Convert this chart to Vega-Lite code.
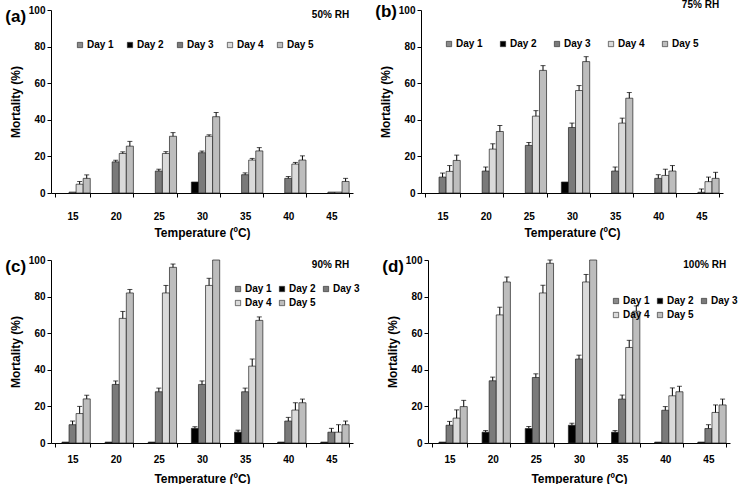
{
  "$schema": "https://vega.github.io/schema/vega-lite/v6.json",
  "background": "white",
  "padding": {"left": 5, "top": 0, "right": 0, "bottom": 0},
  "config": {
    "font": "Liberation Sans",
    "view": {"stroke": null},
    "axis": {"labelFont": "Liberation Sans", "labelFontWeight": "bold", "labelFontSize": 10, "labelColor": "#000", "titleFont": "Liberation Sans", "titleFontSize": 12, "titleFontWeight": "bold", "titleColor": "#000", "domainColor": "#000", "tickColor": "#000", "tickSize": 4, "grid": false, "labelOverlap": false},
    "legend": {"labelFont": "Liberation Sans", "labelFontWeight": "bold", "labelFontSize": 10, "labelColor": "#000", "symbolType": "square", "symbolSize": 28, "symbolStrokeWidth": 0.6, "labelOffset": 2, "title": null},
    "title": {"font": "Liberation Sans", "fontSize": 17, "fontWeight": "bold", "color": "#000", "anchor": "start", "frame": "bounds", "offset": -21, "dx": -4}
  },
  "datasets": {
    "d": [
      {"p": "a", "t": "15", "d": "Day 3", "m": 0.5, "hi": null},
      {"p": "a", "t": "15", "d": "Day 4", "m": 4.8, "hi": 6.3},
      {"p": "a", "t": "15", "d": "Day 5", "m": 8, "hi": 9.9},
      {"p": "a", "t": "20", "d": "Day 3", "m": 17, "hi": 17.9},
      {"p": "a", "t": "20", "d": "Day 4", "m": 21.6, "hi": 22.5},
      {"p": "a", "t": "20", "d": "Day 5", "m": 25.6, "hi": 28.2},
      {"p": "a", "t": "25", "d": "Day 3", "m": 12, "hi": 13},
      {"p": "a", "t": "25", "d": "Day 4", "m": 21.6, "hi": 22.6},
      {"p": "a", "t": "25", "d": "Day 5", "m": 31, "hi": 33},
      {"p": "a", "t": "30", "d": "Day 2", "m": 6, "hi": null},
      {"p": "a", "t": "30", "d": "Day 3", "m": 22, "hi": 22.9},
      {"p": "a", "t": "30", "d": "Day 4", "m": 31, "hi": 31.8},
      {"p": "a", "t": "30", "d": "Day 5", "m": 41.7, "hi": 44},
      {"p": "a", "t": "35", "d": "Day 3", "m": 10, "hi": 11},
      {"p": "a", "t": "35", "d": "Day 4", "m": 18, "hi": 18.9},
      {"p": "a", "t": "35", "d": "Day 5", "m": 23, "hi": 24.8},
      {"p": "a", "t": "40", "d": "Day 3", "m": 8, "hi": 9},
      {"p": "a", "t": "40", "d": "Day 4", "m": 15.8, "hi": 16.7},
      {"p": "a", "t": "40", "d": "Day 5", "m": 18, "hi": 20.3},
      {"p": "a", "t": "45", "d": "Day 3", "m": 0.5, "hi": null},
      {"p": "a", "t": "45", "d": "Day 4", "m": 0.5, "hi": null},
      {"p": "a", "t": "45", "d": "Day 5", "m": 6.3, "hi": 8},

      {"p": "b", "t": "15", "d": "Day 3", "m": 8.7, "hi": 10.9},
      {"p": "b", "t": "15", "d": "Day 4", "m": 11.8, "hi": 15},
      {"p": "b", "t": "15", "d": "Day 5", "m": 17.8, "hi": 20.7},
      {"p": "b", "t": "20", "d": "Day 3", "m": 12, "hi": 14.2},
      {"p": "b", "t": "20", "d": "Day 4", "m": 24, "hi": 26.9},
      {"p": "b", "t": "20", "d": "Day 5", "m": 33.6, "hi": 36.9},
      {"p": "b", "t": "25", "d": "Day 3", "m": 26, "hi": 27.6},
      {"p": "b", "t": "25", "d": "Day 4", "m": 42, "hi": 45},
      {"p": "b", "t": "25", "d": "Day 5", "m": 67, "hi": 69.6},
      {"p": "b", "t": "30", "d": "Day 2", "m": 6, "hi": null},
      {"p": "b", "t": "30", "d": "Day 3", "m": 35.8, "hi": 38.2},
      {"p": "b", "t": "30", "d": "Day 4", "m": 56, "hi": 58.7},
      {"p": "b", "t": "30", "d": "Day 5", "m": 71.8, "hi": 74.5},
      {"p": "b", "t": "35", "d": "Day 3", "m": 12, "hi": 14.2},
      {"p": "b", "t": "35", "d": "Day 4", "m": 38.2, "hi": 40.9},
      {"p": "b", "t": "35", "d": "Day 5", "m": 51.8, "hi": 54.9},
      {"p": "b", "t": "40", "d": "Day 3", "m": 8, "hi": 10},
      {"p": "b", "t": "40", "d": "Day 4", "m": 9.6, "hi": 13},
      {"p": "b", "t": "40", "d": "Day 5", "m": 12, "hi": 15},
      {"p": "b", "t": "45", "d": "Day 3", "m": 0.4, "hi": 2.2},
      {"p": "b", "t": "45", "d": "Day 4", "m": 6.2, "hi": 8.7},
      {"p": "b", "t": "45", "d": "Day 5", "m": 8, "hi": 11.3},

      {"p": "c", "t": "15", "d": "Day 2", "m": 0.5, "hi": null},
      {"p": "c", "t": "15", "d": "Day 3", "m": 10, "hi": 12},
      {"p": "c", "t": "15", "d": "Day 4", "m": 16.1, "hi": 20},
      {"p": "c", "t": "15", "d": "Day 5", "m": 24.1, "hi": 26.1},
      {"p": "c", "t": "20", "d": "Day 2", "m": 0.5, "hi": null},
      {"p": "c", "t": "20", "d": "Day 3", "m": 32, "hi": 33.9},
      {"p": "c", "t": "20", "d": "Day 4", "m": 68.1, "hi": 71.9},
      {"p": "c", "t": "20", "d": "Day 5", "m": 82, "hi": 83.9},
      {"p": "c", "t": "25", "d": "Day 2", "m": 0.5, "hi": null},
      {"p": "c", "t": "25", "d": "Day 3", "m": 28, "hi": 30},
      {"p": "c", "t": "25", "d": "Day 4", "m": 82, "hi": 86.1},
      {"p": "c", "t": "25", "d": "Day 5", "m": 96, "hi": 97.8},
      {"p": "c", "t": "30", "d": "Day 2", "m": 8, "hi": 8.9},
      {"p": "c", "t": "30", "d": "Day 3", "m": 32, "hi": 33.9},
      {"p": "c", "t": "30", "d": "Day 4", "m": 86.1, "hi": 90},
      {"p": "c", "t": "30", "d": "Day 5", "m": 100, "hi": null},
      {"p": "c", "t": "35", "d": "Day 2", "m": 5.9, "hi": 7},
      {"p": "c", "t": "35", "d": "Day 3", "m": 28, "hi": 30},
      {"p": "c", "t": "35", "d": "Day 4", "m": 42, "hi": 45.9},
      {"p": "c", "t": "35", "d": "Day 5", "m": 67, "hi": 68.9},
      {"p": "c", "t": "40", "d": "Day 2", "m": 0.5, "hi": null},
      {"p": "c", "t": "40", "d": "Day 3", "m": 12, "hi": 14},
      {"p": "c", "t": "40", "d": "Day 4", "m": 18, "hi": 22},
      {"p": "c", "t": "40", "d": "Day 5", "m": 22, "hi": 24},
      {"p": "c", "t": "45", "d": "Day 2", "m": 0.5, "hi": null},
      {"p": "c", "t": "45", "d": "Day 3", "m": 5.9, "hi": 8},
      {"p": "c", "t": "45", "d": "Day 4", "m": 5.9, "hi": 10},
      {"p": "c", "t": "45", "d": "Day 5", "m": 10, "hi": 12},

      {"p": "d", "t": "15", "d": "Day 2", "m": 0.5, "hi": null},
      {"p": "d", "t": "15", "d": "Day 3", "m": 9.7, "hi": 11.8},
      {"p": "d", "t": "15", "d": "Day 4", "m": 13.6, "hi": 18.1},
      {"p": "d", "t": "15", "d": "Day 5", "m": 19.9, "hi": 23.3},
      {"p": "d", "t": "20", "d": "Day 2", "m": 5.9, "hi": 6.8},
      {"p": "d", "t": "20", "d": "Day 3", "m": 34, "hi": 36},
      {"p": "d", "t": "20", "d": "Day 4", "m": 70, "hi": 74.2},
      {"p": "d", "t": "20", "d": "Day 5", "m": 88, "hi": 90.7},
      {"p": "d", "t": "25", "d": "Day 2", "m": 7.9, "hi": 9},
      {"p": "d", "t": "25", "d": "Day 3", "m": 35.8, "hi": 37.8},
      {"p": "d", "t": "25", "d": "Day 4", "m": 82, "hi": 86.2},
      {"p": "d", "t": "25", "d": "Day 5", "m": 98.2, "hi": 100},
      {"p": "d", "t": "30", "d": "Day 2", "m": 9.7, "hi": 10.8},
      {"p": "d", "t": "30", "d": "Day 3", "m": 45.9, "hi": 48},
      {"p": "d", "t": "30", "d": "Day 4", "m": 88, "hi": 92.1},
      {"p": "d", "t": "30", "d": "Day 5", "m": 100, "hi": null},
      {"p": "d", "t": "35", "d": "Day 2", "m": 5.9, "hi": 6.8},
      {"p": "d", "t": "35", "d": "Day 3", "m": 24, "hi": 26.2},
      {"p": "d", "t": "35", "d": "Day 4", "m": 52.2, "hi": 56.1},
      {"p": "d", "t": "35", "d": "Day 5", "m": 72, "hi": 74.9},
      {"p": "d", "t": "40", "d": "Day 2", "m": 0.5, "hi": null},
      {"p": "d", "t": "40", "d": "Day 3", "m": 17.9, "hi": 19.9},
      {"p": "d", "t": "40", "d": "Day 4", "m": 25.8, "hi": 30.1},
      {"p": "d", "t": "40", "d": "Day 5", "m": 28, "hi": 31},
      {"p": "d", "t": "45", "d": "Day 2", "m": 0.5, "hi": null},
      {"p": "d", "t": "45", "d": "Day 3", "m": 7.9, "hi": 10},
      {"p": "d", "t": "45", "d": "Day 4", "m": 16.7, "hi": 20.8},
      {"p": "d", "t": "45", "d": "Day 5", "m": 20.8, "hi": 24}
    ]
  },
  "spacing": 17,
  "resolve": {"scale": {"fill": "independent", "y": "independent", "x": "independent", "xOffset": "independent"}, "legend": {"fill": "independent"}},
  "vconcat": [
    {
      "spacing": 22,
      "resolve": {"scale": {"fill": "independent", "y": "independent", "x": "independent", "xOffset": "independent"}, "legend": {"fill": "independent"}},
      "hconcat": [
        {
          "width": 302, "height": 183,
          "title": {"text": "(a)"},
          "layer": [
            {
              "data": {"name": "d"},
              "transform": [{"filter": "datum.p == 'a'"}],
              "mark": {"type": "bar", "stroke": "#222", "strokeWidth": 0.7},
              "encoding": {
                "x": {"field": "t", "type": "nominal", "scale": {"domain": ["15", "20", "25", "30", "35", "40", "45"], "paddingInner": 0.18, "paddingOuter": 0.09}, "axis": {"title": "Temperature (ºC)", "labelAngle": 0, "tickBand": "extent", "labelPadding": 14, "titlePadding": 6}},
                "xOffset": {"field": "d", "type": "nominal", "scale": {"domain": ["Day 1", "Day 2", "Day 3", "Day 4", "Day 5"], "paddingInner": 0, "paddingOuter": 0}},
                "y": {"field": "m", "type": "quantitative", "scale": {"domain": [0, 100]}, "axis": {"title": "Mortality (%)", "values": [0, 20, 40, 60, 80, 100], "tickCount": 6, "labelOverlap": false, "labelBound": false, "titlePadding": 6}},
                "fill": {"field": "d", "type": "nominal", "scale": {"domain": ["Day 1", "Day 2", "Day 3", "Day 4", "Day 5"], "range": ["#8a8a8a", "#000000", "#7a7a7a", "#dadada", "#bdbdbd"]}, "legend": {"orient": "none", "legendX": 24, "legendY": 30, "direction": "horizontal", "columns": 5, "columnPadding": 11}}
              }
            },
            {
              "data": {"name": "d"},
              "transform": [{"filter": "datum.p == 'a' && datum.hi != null"}],
              "mark": {"type": "rule", "color": "#000", "strokeWidth": 1},
              "encoding": {
                "x": {"field": "t", "type": "nominal"},
                "xOffset": {"field": "d", "type": "nominal"},
                "y": {"field": "m", "type": "quantitative"},
                "y2": {"field": "hi"}
              }
            },
            {
              "data": {"name": "d"},
              "transform": [{"filter": "datum.p == 'a' && datum.hi != null"}],
              "mark": {"type": "tick", "color": "#000", "thickness": 1, "size": 5},
              "encoding": {
                "x": {"field": "t", "type": "nominal"},
                "xOffset": {"field": "d", "type": "nominal"},
                "y": {"field": "hi", "type": "quantitative"}
              }
            },
            {
              "data": {"values": [{"lab": "50% RH"}]},
              "mark": {"type": "text", "align": "right", "baseline": "top", "fontSize": 10, "fontWeight": "bold", "color": "#000"},
              "encoding": {
                "x": {"datum": "45", "bandPosition": 1},
                "y": {"datum": 100},
                "text": {"field": "lab"}
              }
            }
          ]
        },
        {
          "width": 302, "height": 183,
          "title": {"text": "(b)"},
          "layer": [
            {
              "data": {"name": "d"},
              "transform": [{"filter": "datum.p == 'b'"}],
              "mark": {"type": "bar", "stroke": "#222", "strokeWidth": 0.7},
              "encoding": {
                "x": {"field": "t", "type": "nominal", "scale": {"domain": ["15", "20", "25", "30", "35", "40", "45"], "paddingInner": 0.18, "paddingOuter": 0.09}, "axis": {"title": "Temperature (ºC)", "labelAngle": 0, "tickBand": "extent", "labelPadding": 14, "titlePadding": 6}},
                "xOffset": {"field": "d", "type": "nominal", "scale": {"domain": ["Day 1", "Day 2", "Day 3", "Day 4", "Day 5"], "paddingInner": 0, "paddingOuter": 0}},
                "y": {"field": "m", "type": "quantitative", "scale": {"domain": [0, 100]}, "axis": {"title": "Mortality (%)", "values": [0, 20, 40, 60, 80, 100], "tickCount": 6, "labelOverlap": false, "labelBound": false, "titlePadding": 6}},
                "fill": {"field": "d", "type": "nominal", "scale": {"domain": ["Day 1", "Day 2", "Day 3", "Day 4", "Day 5"], "range": ["#8a8a8a", "#000000", "#7a7a7a", "#dadada", "#bdbdbd"]}, "legend": {"orient": "none", "legendX": 23, "legendY": 29, "direction": "horizontal", "columns": 5, "columnPadding": 15}}
              }
            },
            {
              "data": {"name": "d"},
              "transform": [{"filter": "datum.p == 'b' && datum.hi != null"}],
              "mark": {"type": "rule", "color": "#000", "strokeWidth": 1},
              "encoding": {
                "x": {"field": "t", "type": "nominal"},
                "xOffset": {"field": "d", "type": "nominal"},
                "y": {"field": "m", "type": "quantitative"},
                "y2": {"field": "hi"}
              }
            },
            {
              "data": {"name": "d"},
              "transform": [{"filter": "datum.p == 'b' && datum.hi != null"}],
              "mark": {"type": "tick", "color": "#000", "thickness": 1, "size": 5},
              "encoding": {
                "x": {"field": "t", "type": "nominal"},
                "xOffset": {"field": "d", "type": "nominal"},
                "y": {"field": "hi", "type": "quantitative"}
              }
            },
            {
              "data": {"values": [{"lab": "75% RH"}]},
              "mark": {"type": "text", "align": "right", "baseline": "bottom", "fontSize": 10, "fontWeight": "bold", "color": "#000"},
              "encoding": {
                "x": {"datum": "45", "bandPosition": 1},
                "y": {"datum": 100},
                "text": {"field": "lab"}
              }
            }
          ]
        }
      ]
    },
    {
      "spacing": 22,
      "resolve": {"scale": {"fill": "independent", "y": "independent", "x": "independent", "xOffset": "independent"}, "legend": {"fill": "independent"}},
      "hconcat": [
        {
          "width": 302, "height": 183,
          "title": {"text": "(c)"},
          "layer": [
            {
              "data": {"name": "d"},
              "transform": [{"filter": "datum.p == 'c'"}],
              "mark": {"type": "bar", "stroke": "#222", "strokeWidth": 0.7},
              "encoding": {
                "x": {"field": "t", "type": "nominal", "scale": {"domain": ["15", "20", "25", "30", "35", "40", "45"], "paddingInner": 0.18, "paddingOuter": 0.09}, "axis": {"title": "Temperature (ºC)", "labelAngle": 0, "tickBand": "extent", "labelPadding": 7, "titlePadding": 9}},
                "xOffset": {"field": "d", "type": "nominal", "scale": {"domain": ["Day 1", "Day 2", "Day 3", "Day 4", "Day 5"], "paddingInner": 0, "paddingOuter": 0}},
                "y": {"field": "m", "type": "quantitative", "scale": {"domain": [0, 100]}, "axis": {"title": "Mortality (%)", "values": [0, 20, 40, 60, 80, 100], "tickCount": 6, "labelOverlap": false, "labelBound": false, "titlePadding": 6}},
                "fill": {"field": "d", "type": "nominal", "scale": {"domain": ["Day 1", "Day 2", "Day 3", "Day 4", "Day 5"], "range": ["#8a8a8a", "#000000", "#7a7a7a", "#dadada", "#bdbdbd"]}, "legend": {"orient": "none", "legendX": 182, "legendY": 24, "direction": "horizontal", "columns": 3, "columnPadding": 5, "rowPadding": 4}}
              }
            },
            {
              "data": {"name": "d"},
              "transform": [{"filter": "datum.p == 'c' && datum.hi != null"}],
              "mark": {"type": "rule", "color": "#000", "strokeWidth": 1},
              "encoding": {
                "x": {"field": "t", "type": "nominal"},
                "xOffset": {"field": "d", "type": "nominal"},
                "y": {"field": "m", "type": "quantitative"},
                "y2": {"field": "hi"}
              }
            },
            {
              "data": {"name": "d"},
              "transform": [{"filter": "datum.p == 'c' && datum.hi != null"}],
              "mark": {"type": "tick", "color": "#000", "thickness": 1, "size": 5},
              "encoding": {
                "x": {"field": "t", "type": "nominal"},
                "xOffset": {"field": "d", "type": "nominal"},
                "y": {"field": "hi", "type": "quantitative"}
              }
            },
            {
              "data": {"values": [{"lab": "90% RH"}]},
              "mark": {"type": "text", "align": "right", "baseline": "top", "fontSize": 10, "fontWeight": "bold", "color": "#000"},
              "encoding": {
                "x": {"datum": "45", "bandPosition": 1},
                "y": {"datum": 100},
                "text": {"field": "lab"}
              }
            }
          ]
        },
        {
          "width": 302, "height": 183,
          "title": {"text": "(d)"},
          "layer": [
            {
              "data": {"name": "d"},
              "transform": [{"filter": "datum.p == 'd'"}],
              "mark": {"type": "bar", "stroke": "#222", "strokeWidth": 0.7},
              "encoding": {
                "x": {"field": "t", "type": "nominal", "scale": {"domain": ["15", "20", "25", "30", "35", "40", "45"], "paddingInner": 0.18, "paddingOuter": 0.09}, "axis": {"title": "Temperature (ºC)", "labelAngle": 0, "tickBand": "extent", "labelPadding": 7, "titlePadding": 9}},
                "xOffset": {"field": "d", "type": "nominal", "scale": {"domain": ["Day 1", "Day 2", "Day 3", "Day 4", "Day 5"], "paddingInner": 0, "paddingOuter": 0}},
                "y": {"field": "m", "type": "quantitative", "scale": {"domain": [0, 100]}, "axis": {"title": "Mortality (%)", "values": [0, 20, 40, 60, 80, 100], "tickCount": 6, "labelOverlap": false, "labelBound": false, "titlePadding": 6}},
                "fill": {"field": "d", "type": "nominal", "scale": {"domain": ["Day 1", "Day 2", "Day 3", "Day 4", "Day 5"], "range": ["#8a8a8a", "#000000", "#7a7a7a", "#dadada", "#bdbdbd"]}, "legend": {"orient": "none", "legendX": 183, "legendY": 36, "direction": "horizontal", "columns": 3, "columnPadding": 5, "rowPadding": 4}}
              }
            },
            {
              "data": {"name": "d"},
              "transform": [{"filter": "datum.p == 'd' && datum.hi != null"}],
              "mark": {"type": "rule", "color": "#000", "strokeWidth": 1},
              "encoding": {
                "x": {"field": "t", "type": "nominal"},
                "xOffset": {"field": "d", "type": "nominal"},
                "y": {"field": "m", "type": "quantitative"},
                "y2": {"field": "hi"}
              }
            },
            {
              "data": {"name": "d"},
              "transform": [{"filter": "datum.p == 'd' && datum.hi != null"}],
              "mark": {"type": "tick", "color": "#000", "thickness": 1, "size": 5},
              "encoding": {
                "x": {"field": "t", "type": "nominal"},
                "xOffset": {"field": "d", "type": "nominal"},
                "y": {"field": "hi", "type": "quantitative"}
              }
            },
            {
              "data": {"values": [{"lab": "100% RH"}]},
              "mark": {"type": "text", "align": "right", "baseline": "top", "fontSize": 10, "fontWeight": "bold", "color": "#000"},
              "encoding": {
                "x": {"datum": "45", "bandPosition": 1},
                "y": {"datum": 100},
                "text": {"field": "lab"}
              }
            }
          ]
        }
      ]
    }
  ]
}
